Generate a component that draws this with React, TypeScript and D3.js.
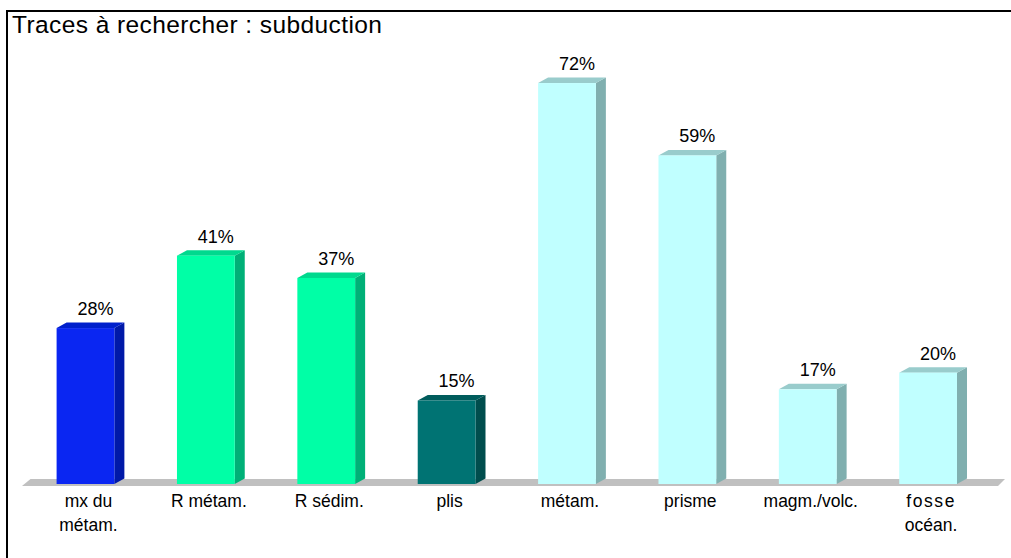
import React from "react";
import * as d3 from "d3";

const categories = ["mx du|métam.", "R métam.", "R sédim.", "plis", "métam.", "prisme", "magm./volc.", "fosse|océan."];
const values = [28, 41, 37, 15, 72, 59, 17, 20];
const valueLabels = ["28%", "41%", "37%", "15%", "72%", "59%", "17%", "20%"];
const groups = [0, 1, 1, 2, 3, 3, 3, 3];
const title = "Traces à rechercher : subduction";

const palettes = [
  { front: "#0A26F2", side: "#0019A8", top: "#0020CC" },
  { front: "#00FFA6", side: "#00B077", top: "#00D98E" },
  { front: "#007373", side: "#004D4D", top: "#005C5C" },
  { front: "#C0FFFF", side: "#80AFAF", top: "#99CCCC" },
];

export default function App() {
  const W = 1011, H = 558;
  const x = d3.scaleBand<number>().domain(d3.range(categories.length)).range([25.3, 988.3]).paddingInner(0.52).paddingOuter(0.26);
  const y = d3.scaleLinear().domain([0, 80]).range([484, 38.5]);
  const dx = 10, dy = -5.5;
  const font = "'Liberation Sans', Arial, sans-serif";

  return (
    <svg width={W} height={H} style={{ position: "absolute", left: 0, top: 0, background: "#fff" }} fontFamily={font}>
      <rect x={0} y={0} width={W} height={H} fill="#fff" />
      <line x1={6} y1={11} x2={1011} y2={11} stroke="#000" strokeWidth={2} />
      <line x1={7} y1={10} x2={7} y2={558} stroke="#000" strokeWidth={2} />
      <text x={12} y={33} fontSize={24.5} textLength={370} lengthAdjust="spacing" fill="#000">{title}</text>
      <polygon points={`22,486 998,486 1005,479 30.5,479`} fill="#C0C0C0" />
      {values.map((v, i) => {
        const p = palettes[groups[i]];
        const x0 = x(i)!;
        const w = x.bandwidth();
        const y0 = y(0);
        const yt = y(v);
        const cx = x0 + w / 2;
        const lines = categories[i].split("|");
        return (
          <g key={i}>
            <polygon points={`${x0 + w},${y0} ${x0 + w + dx},${y0 + dy} ${x0 + w + dx},${yt + dy} ${x0 + w},${yt}`} fill={p.side} />
            <polygon points={`${x0},${yt} ${x0 + dx},${yt + dy} ${x0 + w + dx},${yt + dy} ${x0 + w},${yt}`} fill={p.top} />
            <rect x={x0} y={yt} width={w} height={y0 - yt} fill={p.front} />
            <text x={cx + dx} y={yt - 13} fontSize={18} textAnchor="middle" fill="#000">{valueLabels[i]}</text>
            {lines.map((l, j) => (
              <text key={j} x={cx + 3} y={507 + j * 24} fontSize={17.5} textAnchor="middle" fill="#000"
                letterSpacing={l === "fosse" ? 1.6 : 0}>{l}</text>
            ))}
          </g>
        );
      })}
    </svg>
  );
}
